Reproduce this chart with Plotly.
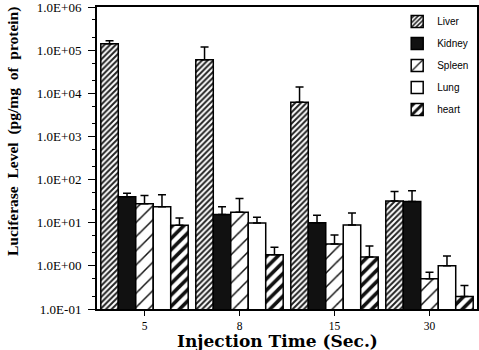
import plotly.graph_objects as go

categories = ["5", "8", "15", "30"]
organs = ["Liver", "Kidney", "Spleen", "Lung", "heart"]

liver = [1.4e5, 6.0e4, 6.2e3, 32]
liver_err = [0.25e5, 5.8e4, 7.8e3, 21]
kidney = [40, 15.4, 10, 31]
kidney_err = [8, 8, 4.8, 24]
spleen = [27.5, 17.4, 3.2, 0.5]
spleen_err = [15, 19, 2.0, 0.21]
lung = [23.5, 9.8, 8.8, 1.0]
lung_err = [21, 3.5, 8.0, 0.7]
heart = [8.7, 1.8, 1.6, 0.195]
heart_err = [4.2, 0.9, 1.3, 0.155]

values = [liver, kidney, spleen, lung, heart]
errors = [liver_err, kidney_err, spleen_err, lung_err, heart_err]

styles = [
    dict(color="white", pattern=dict(shape="/", fgcolor="#222222", bgcolor="white", size=4, solidity=0.5, fillmode="replace")),
    dict(color="#111111"),
    dict(color="white", pattern=dict(shape="/", fgcolor="#111111", bgcolor="white", size=10, solidity=0.15, fillmode="replace")),
    dict(color="white"),
    dict(color="white", pattern=dict(shape="/", fgcolor="#111111", bgcolor="white", size=8, solidity=0.45, fillmode="replace")),
]

fig = go.Figure()
for name, v, e, st in zip(organs, values, errors, styles):
    marker = dict(line=dict(color="black", width=1.5), **st)
    fig.add_trace(go.Bar(
        x=categories, y=v, name=name, legendgroup=name,
        marker=marker,
        error_y=dict(type="data", array=e, arrayminus=[0] * len(e), symmetric=False,
                     color="black", thickness=1.5, width=4),
    ))

tickvals = [1e-1, 1e0, 1e1, 1e2, 1e3, 1e4, 1e5, 1e6]
ticktext = ["1.0E-01", "1.0E+00", "1.0E+01", "1.0E+02", "1.0E+03", "1.0E+04", "1.0E+05", "1.0E+06"]

serif = "Liberation Serif"
sp = "\u2002"
ytitle = "<b>Luciferase" + sp + "Level" + sp + "(pg/mg" + sp + "of" + sp + "protein)</b>"

fig.update_layout(
    width=479, height=350,
    margin=dict(l=97, r=2, t=7, b=41, autoexpand=False),
    paper_bgcolor="white", plot_bgcolor="white",
    barmode="group", bargap=0.08, bargroupgap=0,
    font=dict(family=serif, color="black", size=10),
    legend=dict(x=0.79, y=1.0, xanchor="left", yanchor="top",
                font=dict(family="Liberation Sans", size=10, color="black"),
                bgcolor="rgba(255,255,255,0)", tracegroupgap=3,
                traceorder="grouped"),
    showlegend=True,
    annotations=[
        dict(text=ytitle, xref="paper", yref="paper",
             x=-(97 - 13) / 380, y=(309 - 132) / 302,
             xanchor="center", yanchor="middle", textangle=-90, showarrow=False,
             font=dict(family=serif, size=15.5, color="black")),
        dict(text="<b>Injection Time (Sec.)</b>", xref="paper", yref="paper",
             x=(277 - 97) / 380, y=-(341 - 309) / 302,
             xanchor="center", yanchor="middle", showarrow=False,
             font=dict(family="DejaVu Serif", size=17, color="black")),
    ],
)
fig.update_yaxes(
    type="log", range=[-1, 6],
    tickvals=tickvals, ticktext=ticktext,
    ticks="outside", ticklen=7, tickwidth=1.2, tickcolor="black",
    minor=dict(ticks="outside", ticklen=3, tickcolor="black", tickwidth=1),
    showline=True, linecolor="black", linewidth=2, mirror=True,
    showgrid=False, zeroline=False, ticklabelstandoff=4,
    ticklabeloverflow="allow",
    tickfont=dict(family=serif, size=13),
)
fig.update_xaxes(
    type="category",
    ticks="outside", ticklen=5, tickwidth=1.2, tickcolor="black",
    showline=True, linecolor="black", linewidth=2, mirror=True,
    showgrid=False,
    tickfont=dict(family=serif, size=11.5),
)

fig.write_html("out.html")
